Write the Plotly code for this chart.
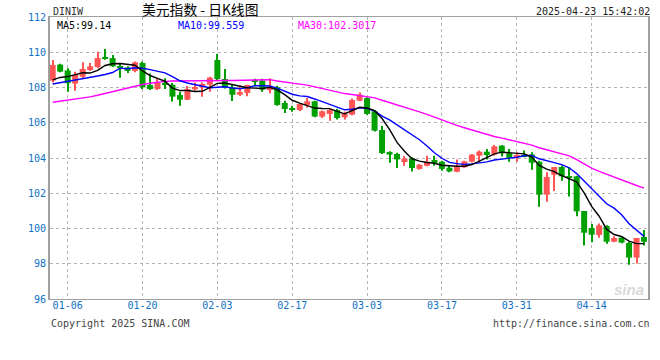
import plotly.graph_objects as go
import pandas as pd

# ---------------- data ----------------
dates = pd.bdate_range("2025-01-02", "2025-04-23")
date_labels = [d.strftime("%m-%d") for d in dates]

opens = [108.39, 109.30, 108.97, 108.22, 108.61, 108.99, 109.16, 109.71, 109.67, 109.20,
         109.13, 108.94, 109.39, 108.14, 107.91, 108.27, 108.16, 107.57, 107.31, 107.90,
         108.01, 108.16, 109.56, 108.48, 108.01, 107.59, 107.69, 108.43, 108.39, 107.88,
         108.01, 107.12, 106.84, 106.72, 107.01, 107.22, 106.35, 106.50, 106.72, 106.31,
         106.46, 107.25, 107.40, 106.65, 105.59, 104.34, 104.23, 103.77, 103.98, 103.38,
         103.56, 103.89, 103.79, 103.45, 103.22, 103.47, 103.79, 104.13, 104.36, 104.19,
         104.70, 104.27, 104.04, 104.19, 104.20, 103.79, 101.92, 103.05, 103.49, 102.98,
         102.96, 100.99, 100.03, 99.63, 100.14, 99.25, 99.48, 99.18, 98.35, 99.52]
highs = [109.56, 109.35, 109.09, 108.90, 109.43, 109.39, 110.03, 110.18, 109.84, 109.35,
         109.20, 109.47, 109.47, 108.80, 108.48, 108.52, 108.26, 107.76, 108.09, 108.29,
         108.29, 108.61, 109.90, 109.05, 108.14, 108.12, 108.16, 108.50, 108.50, 108.52,
         108.10, 107.25, 106.97, 107.10, 107.40, 107.25, 106.69, 106.78, 106.80, 106.63,
         107.37, 107.71, 107.44, 106.69, 105.82, 104.38, 104.30, 104.11, 104.04, 103.66,
         104.13, 104.13, 103.85, 103.60, 103.91, 103.85, 104.23, 104.42, 104.51, 104.74,
         104.74, 104.51, 104.32, 104.42, 104.32, 103.85, 103.19, 103.49, 103.57, 103.47,
         103.00, 101.00, 100.26, 100.29, 100.18, 99.56, 99.52, 99.25, 99.46, 99.91]
lows = [108.29, 108.86, 107.76, 107.82, 108.52, 108.94, 109.09, 109.58, 109.16, 108.56,
        108.82, 108.86, 107.91, 107.86, 107.86, 107.91, 107.20, 106.97, 107.29, 107.82,
        107.48, 107.76, 108.39, 107.95, 107.23, 107.52, 107.50, 108.10, 107.76, 107.68,
        106.97, 106.55, 106.63, 106.67, 106.87, 106.31, 106.27, 106.12, 106.19, 106.19,
        106.42, 107.22, 106.46, 105.51, 104.23, 103.73, 103.43, 103.56, 103.24, 103.34,
        103.53, 103.56, 103.28, 103.19, 103.19, 103.45, 103.75, 103.75, 103.91, 104.13,
        104.08, 103.79, 103.79, 104.04, 103.34, 101.24, 101.52, 102.13, 102.71, 101.81,
        100.69, 99.03, 99.22, 99.48, 99.14, 99.22, 99.16, 97.95, 98.02, 99.03]
closes = [109.28, 108.90, 108.24, 108.71, 109.05, 109.20, 109.67, 109.62, 109.20, 109.11,
          108.94, 109.43, 108.01, 107.91, 108.29, 108.14, 107.48, 107.31, 107.91, 108.03,
          108.20, 108.56, 108.48, 107.99, 107.59, 107.74, 108.14, 108.35, 107.88, 107.95,
          107.01, 106.78, 106.76, 107.06, 107.22, 106.35, 106.65, 106.72, 106.27, 106.53,
          107.29, 107.59, 106.50, 105.55, 104.28, 104.19, 103.92, 103.96, 103.43, 103.62,
          103.79, 103.72, 103.38, 103.24, 103.53, 103.81, 104.19, 104.36, 104.17, 104.66,
          104.27, 104.00, 104.17, 104.08, 103.73, 101.92, 102.92, 103.49, 102.96, 102.92,
          100.97, 99.76, 99.65, 100.18, 99.25, 99.46, 99.20, 98.35, 99.46, 99.25]

# moving-average values at the start of the window (read off the picture,
# they depend on closes before the first visible day)
ma5_head = [108.43, 108.57, 108.62, 108.72]
ma10_head = [108.20, 108.27, 108.33, 108.40, 108.48, 108.57, 108.65, 108.74, 108.85]
ma30_head = [107.16, 107.22, 107.28, 107.33, 107.39, 107.47, 107.56, 107.66, 107.77, 107.88,
             107.99, 108.09, 108.17, 108.24, 108.30, 108.35, 108.37, 108.38, 108.39, 108.39,
             108.40, 108.40, 108.40, 108.40, 108.40, 108.41, 108.42, 108.43, 108.44]

tick_dates = ["01-06", "01-20", "02-03", "02-17", "03-03", "03-17", "03-31", "04-14"]
y_ticks = [96, 98, 100, 102, 104, 106, 108, 110, 112]

title_text = "美元指数 - 日K线图"
symbol_text = "DINIW"
time_text = "2025-04-23 15:42:02"
ma_texts = ["MA5:99.14", "MA10:99.559", "MA30:102.3017"]
copyright_text = "Copyright 2025 SINA.COM"
url_text = "http://finance.sina.com.cn"

# ---------------- derived ----------------
n = len(closes)
idx = list(range(n))
s = pd.Series(closes)


def moving(head, w):
    vals = s.rolling(w).mean().tolist()
    return list(head) + vals[len(head):]


ma5 = moving(ma5_head, 5)
ma10 = moving(ma10_head, 10)
ma30 = moving(ma30_head, 30)

UP = "#ff5555"
DOWN = "#00a000"
colors = [UP if c >= o else DOWN for o, c in zip(opens, closes)]
body_base = [min(o, c) for o, c in zip(opens, closes)]
body_h = [max(abs(c - o), 0.045) for o, c in zip(opens, closes)]
wick_h = [h - l for h, l in zip(highs, lows)]

fig = go.Figure()
fig.add_bar(x=idx, y=wick_h, base=lows, width=0.14, marker_color=colors,
            marker_line_width=0, hoverinfo="skip")
fig.add_bar(x=idx, y=body_h, base=body_base, width=0.8, marker_color=colors,
            marker_line_width=0, hoverinfo="skip")
for vals, col in [(ma30, "#ff00ff"), (ma10, "#0000ff"), (ma5, "#000000")]:
    fig.add_scatter(x=idx, y=vals, mode="lines", line=dict(color=col, width=1.4),
                    hoverinfo="skip")

tick_idx = [date_labels.index(t) for t in tick_dates]

# ---------------- layout ----------------
L, R, T, B = 50, 10, 17, 61
W, H = 660, 360
PW, PH = W - L - R, H - T - B


def px(x):
    return (x - L) / PW


def py(y):
    return (H - B - y) / PH


MONO = "DejaVu Sans Mono"
BLUE_TXT = "#0f72c6"

ann = []


def add_text(text, x, y, anchor, color, size, family=MONO):
    ann.append(dict(text=text, x=px(x), y=py(y), xref="paper", yref="paper",
                    xanchor=anchor, yanchor="middle", showarrow=False,
                    font=dict(family=family, size=size, color=color)))


add_text(symbol_text, 51, 11, "left", "#333333", 10)
add_text(title_text, 140, 9.5, "left", "#000000", 13.8, "Noto Sans CJK SC")
add_text(time_text, 654, 11, "right", "#222222", 10)
add_text(ma_texts[0], 55, 25.5, "left", "#000000", 10)
add_text(ma_texts[1], 176, 25.5, "left", "#0000ff", 10)
add_text(ma_texts[2], 297, 25.5, "left", "#ff00ff", 10)
add_text(copyright_text, 49, 323, "left", "#444444", 10)
add_text(url_text, 654, 323, "right", "#444444", 10)
ann.append(dict(text="<b><i>sina</i></b>", x=px(648), y=py(289), xref="paper", yref="paper",
                xanchor="right", yanchor="middle", showarrow=False,
                font=dict(family="Liberation Sans", size=15, color="#d8d8d8")))

fig.update_layout(
    width=W, height=H,
    margin=dict(l=L, r=R, t=T, b=B, pad=0),
    paper_bgcolor="white", plot_bgcolor="white",
    showlegend=False, barmode="overlay", hovermode=False,
    annotations=ann,
    xaxis=dict(range=[-0.36, 79.53], tickvals=tick_idx, ticktext=tick_dates,
               showgrid=True, gridcolor="#b4b4b4", griddash="dot", gridwidth=1,
               showline=True, mirror=True, linecolor="#a0a0a0", linewidth=1,
               zeroline=False, ticks="", ticklabelstandoff=-3,
               tickfont=dict(family=MONO, size=10, color=BLUE_TXT),
               fixedrange=True),
    yaxis=dict(range=[96, 112], tickvals=y_ticks, ticktext=[str(v) for v in y_ticks],
               showgrid=True, gridcolor="#b4b4b4", griddash="dot", gridwidth=1,
               showline=True, mirror=True, linecolor="#a0a0a0", linewidth=2,
               zeroline=False, ticks="", tickfont=dict(family=MONO, size=10, color=BLUE_TXT),
               fixedrange=True),
)

fig.write_html("out.html", config={"displayModeBar": False},
               post_script="document.body.style.margin='0';document.body.style.overflow='hidden';")
